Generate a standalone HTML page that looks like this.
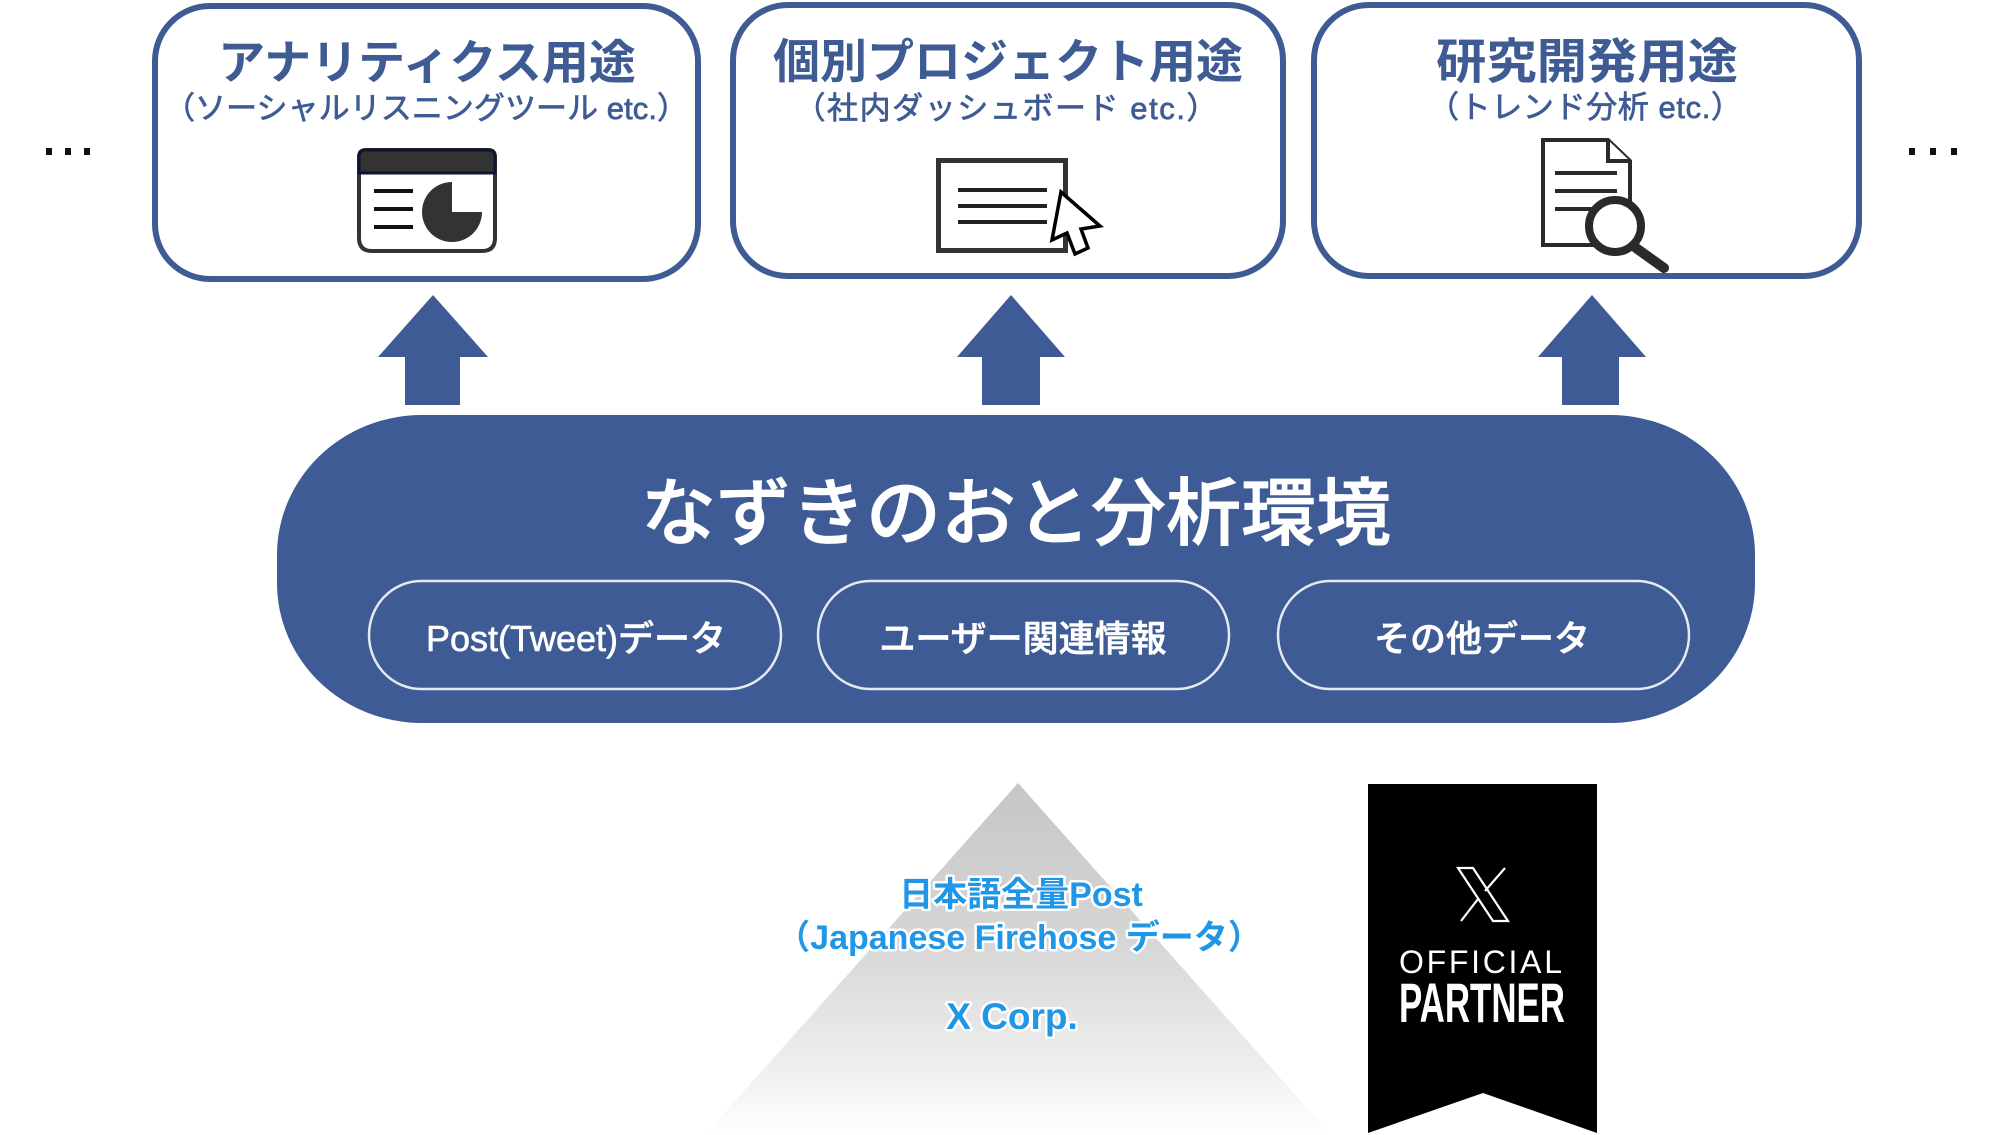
<!DOCTYPE html>
<html>
<head>
<meta charset="utf-8">
<style>
  html,body{margin:0;padding:0;background:#fff;}
  svg{display:block;}
  text{font-family:"Liberation Sans","Noto Sans CJK JP",sans-serif;}
</style>
</head>
<body>
<svg width="2000" height="1135" viewBox="0 0 2000 1135" xmlns="http://www.w3.org/2000/svg">
  <defs>
    <linearGradient id="tri" x1="0" y1="783" x2="0" y2="1135" gradientUnits="userSpaceOnUse">
      <stop offset="0" stop-color="#c6c6c6"/>
      <stop offset="0.45" stop-color="#d6d6d6"/>
      <stop offset="0.8" stop-color="#eeeeee"/>
      <stop offset="1" stop-color="#ffffff"/>
    </linearGradient>
  </defs>

  <!-- ellipses -->
  <g fill="#111">
    <rect x="46" y="148" width="6" height="7"/>
    <rect x="65" y="148" width="6" height="7"/>
    <rect x="84" y="148" width="6" height="7"/>
    <rect x="1909" y="148" width="6" height="7"/>
    <rect x="1930" y="148" width="6" height="7"/>
    <rect x="1951" y="148" width="6" height="7"/>
  </g>

  <!-- top boxes -->
  <g fill="#fff" stroke="#3f5b94" stroke-width="6">
    <rect x="155" y="6" width="543" height="273" rx="55" ry="55"/>
    <rect x="733" y="5" width="550" height="271" rx="55" ry="55"/>
    <rect x="1314" y="5" width="545" height="271" rx="55" ry="55"/>
  </g>

  <!-- titles -->
  <g fill="#3f5b94" text-anchor="middle">
    <text x="427" y="79" font-size="47" font-weight="700">アナリティクス用途</text>
    <text x="1008" y="78" font-size="47" font-weight="700">個別プロジェクト用途</text>
    <text x="1587" y="78" font-size="48" font-weight="700" textLength="302" lengthAdjust="spacingAndGlyphs">研究開発用途</text>
  </g>
  <g fill="#3f5b94" text-anchor="middle" stroke="#3f5b94" stroke-width="0.7">
    <text x="426" y="119" font-size="31" textLength="524" lengthAdjust="spacing">（ソーシャルリスニングツール etc.）</text>
    <text x="1006" y="119" font-size="31" textLength="423" lengthAdjust="spacing">（社内ダッシュボード etc.）</text>
    <text x="1585" y="118" font-size="31" textLength="314" lengthAdjust="spacing">（トレンド分析 etc.）</text>
  </g>

  <!-- icon 1: dashboard window with pie -->
  <g>
    <path d="M359,157 Q359,150 366,150 L488,150 Q495,150 495,157 L495,238 Q495,251 482,251 L372,251 Q359,251 359,238 Z" fill="#fff" stroke="#333" stroke-width="4"/>
    <path d="M359,157 Q359,150 366,150 L488,150 Q495,150 495,157 L495,173 L359,173 Z" fill="#333" stroke="#0d1530" stroke-width="3"/>
    <g stroke="#111" stroke-width="4">
      <line x1="374" y1="191" x2="413" y2="191"/>
      <line x1="374" y1="209" x2="413" y2="209"/>
      <line x1="374" y1="227" x2="413" y2="227"/>
    </g>
    <path d="M452,212 L452,182 A30,30 0 1,0 482,212 Z" fill="#333"/>
  </g>

  <!-- icon 2: window with cursor -->
  <g>
    <rect x="938.5" y="160.5" width="127" height="90" fill="#fff" stroke="#333" stroke-width="5"/>
    <g stroke="#222" stroke-width="4">
      <line x1="958" y1="190" x2="1047" y2="190"/>
      <line x1="958" y1="206" x2="1047" y2="206"/>
      <line x1="958" y1="222" x2="1047" y2="222"/>
    </g>
    <polygon points="1061,192 1052,240 1067,233 1075,254 1088,248 1081,229 1100,226" fill="#fff" stroke="#000" stroke-width="3.5" stroke-linejoin="miter"/>
  </g>

  <!-- icon 3: document with magnifier -->
  <g>
    <path d="M1543,140 L1608,140 L1630,161 L1630,245 L1543,245 Z" fill="#fff" stroke="#2a2a2a" stroke-width="4"/>
    <path d="M1608,140 L1608,161 L1630,161" fill="#fff" stroke="#2a2a2a" stroke-width="4"/>
    <g stroke="#2a2a2a" stroke-width="4">
      <line x1="1555" y1="173" x2="1617" y2="173"/>
      <line x1="1555" y1="191" x2="1617" y2="191"/>
      <line x1="1555" y1="209" x2="1600" y2="209"/>
    </g>
    <line x1="1636" y1="248" x2="1664" y2="268" stroke="#2a2a2a" stroke-width="10" stroke-linecap="round"/>
    <circle cx="1615" cy="226" r="26" fill="#fff" stroke="#2a2a2a" stroke-width="8"/>
  </g>

  <!-- arrows -->
  <g fill="#3f5b95">
    <polygon points="433,295 488,357 460,357 460,405 405,405 405,357 378,357"/>
    <polygon points="1011,295 1065,357 1040,357 1040,405 982,405 982,357 957,357"/>
    <polygon points="1592,295 1646,357 1619,357 1619,405 1562,405 1562,357 1538,357"/>
  </g>

  <!-- main pill -->
  <rect x="277" y="415" width="1478" height="308" rx="145" ry="140" fill="#3f5b95"/>
  <text x="1016" y="539" font-size="74" font-weight="500" fill="#fff" stroke="#fff" stroke-width="0.8" text-anchor="middle" textLength="750" lengthAdjust="spacingAndGlyphs">なずきのおと分析環境</text>

  <g fill="none" stroke="#e4e9f2" stroke-width="2.5">
    <rect x="369" y="581" width="412" height="108" rx="52" ry="54"/>
    <rect x="818" y="581" width="411" height="108" rx="52" ry="54"/>
    <rect x="1278" y="581" width="411" height="108" rx="52" ry="54"/>
  </g>
  <g fill="#fff" font-size="36" font-weight="500" text-anchor="middle" stroke="#fff" stroke-width="0.6">
    <text x="576" y="651">Post(Tweet)データ</text>
    <text x="1023" y="651">ユーザー関連情報</text>
    <text x="1482" y="651">その他データ</text>
  </g>

  <!-- triangle -->
  <polygon points="1018,783 1331,1135 705,1135" fill="url(#tri)"/>
  <g fill="#1f96e6" font-weight="700" text-anchor="middle" stroke="#fff" stroke-width="5" stroke-linejoin="round" paint-order="stroke">
    <text x="1021" y="906" font-size="34">日本語全量Post</text>
    <text x="1019" y="949" font-size="34">（Japanese Firehose データ）</text>
    <text x="1012" y="1029" font-size="37">X Corp.</text>
  </g>

  <!-- official partner badge -->
  <polygon points="1368,784 1597,784 1597,1133 1483,1093 1368,1133" fill="#000"/>
  <g fill="none" stroke="#fff" stroke-width="2.2">
    <polygon points="1458,868 1473,868 1508,921 1493,921"/>
    <line x1="1505" y1="868" x2="1485" y2="891"/>
    <line x1="1478" y1="899" x2="1461" y2="921"/>
  </g>
  <text x="1399" y="973" font-size="32" fill="#fff" textLength="163" lengthAdjust="spacing">OFFICIAL</text>
  <text x="1399" y="1022" font-size="56" font-weight="700" fill="#fff" textLength="166" lengthAdjust="spacingAndGlyphs">PARTNER</text>
</svg>
</body>
</html>
